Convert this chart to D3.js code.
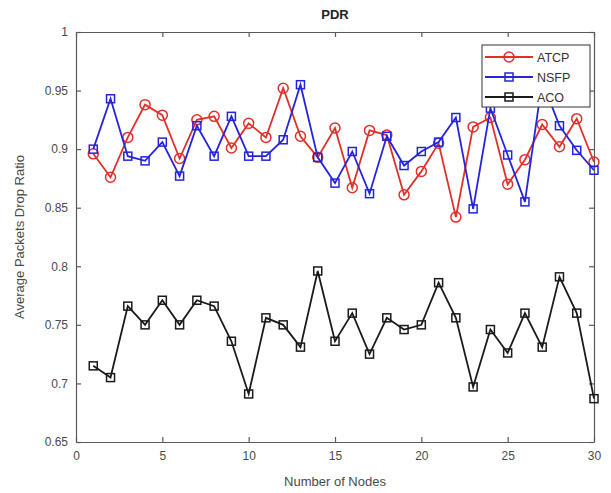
<!DOCTYPE html>
<html><head><meta charset="utf-8">
<script src="https://cdn.jsdelivr.net/npm/d3@7"></script>
<style>body{margin:0;background:#fff}svg{display:block}text{font-family:"Liberation Sans",Arial,sans-serif}</style>
</head><body>
<svg id="c" width="611" height="493"></svg>
<script>
const nodes = d3.range(1, 31);
const atcp = [0.896,0.876,0.910,0.938,0.929,0.892,0.925,0.928,0.901,0.922,0.910,0.952,0.911,0.893,0.918,
              0.867,0.916,0.912,0.861,0.881,0.905,0.842,0.919,0.927,0.870,0.891,0.921,0.902,0.926,0.889];
const nsfp = [0.900,0.943,0.894,0.890,0.906,0.877,0.920,0.894,0.928,0.894,0.894,0.908,0.955,0.893,0.871,
              0.898,0.862,0.911,0.886,0.898,0.906,0.927,0.849,0.935,0.895,0.855,0.958,0.920,0.899,0.882];
const aco  = [0.715,0.705,0.766,0.750,0.771,0.750,0.771,0.766,0.736,0.691,0.756,0.750,0.731,0.796,0.736,
              0.760,0.725,0.756,0.746,0.750,0.786,0.756,0.697,0.746,0.726,0.760,0.731,0.791,0.760,0.687];
const xTicks = [0,5,10,15,20,25,30];
const yTicks = [0.65,0.7,0.75,0.8,0.85,0.9,0.95,1];
const seriesNames = ["ATCP","NSFP","ACO"];

const svg = d3.select("#c");
const L=76, R=594, T=32, B=442;
const x = d3.scaleLinear().domain([0,30]).range([L,R]);
const y = d3.scaleLinear().domain([0.65,1]).range([B,T]);
const axisCol = "#5a5a5a", txtCol = "#4a4a4a";

// axes with inward ticks
const ax = [
  d3.axisBottom(x).tickValues(xTicks).tickSizeInner(-5).tickSizeOuter(0).tickPadding(9),
  d3.axisTop(x).tickValues(xTicks).tickSizeInner(-5).tickSizeOuter(0).tickFormat(""),
  d3.axisLeft(y).tickValues(yTicks).tickSizeInner(-5).tickSizeOuter(0).tickPadding(8).tickFormat(d=>d===1?"1":String(+d.toFixed(2))),
  d3.axisRight(y).tickValues(yTicks).tickSizeInner(-5).tickSizeOuter(0).tickFormat("")
];
const tr = [`translate(0,${B})`,`translate(0,${T})`,`translate(${L},0)`,`translate(${R},0)`];
ax.forEach((a,i)=>{
  const g = svg.append("g").attr("transform",tr[i]).call(a);
  g.selectAll("path,line").attr("stroke",axisCol).attr("stroke-width",1.2);
  g.selectAll("text").attr("fill",txtCol).style("font-size","12px");
});

svg.append("text").attr("x",(L+R)/2).attr("y",19).attr("text-anchor","middle")
  .style("font-weight","bold").style("font-size","13px").attr("fill","#222").text("PDR");
svg.append("text").attr("x",(L+R)/2).attr("y",486).attr("text-anchor","middle")
  .style("font-size","13px").attr("fill",txtCol).text("Number of Nodes");
svg.append("text").attr("transform",`translate(24,${(T+B)/2}) rotate(-90)`).attr("text-anchor","middle")
  .style("font-size","13px").attr("fill",txtCol).text("Average Packets Drop Ratio");

const cols = ["#e0302a","#2424dd","#1a1a1a"];
const data = [atcp,nsfp,aco];
const line = d3.line().x((d,i)=>x(nodes[i])).y(d=>y(d));
function marker(g,k,cx,cy){
  if(k===0) g.append("circle").attr("cx",cx).attr("cy",cy).attr("r",5).attr("fill","none").attr("stroke",cols[k]).attr("stroke-width",1.5);
  else g.append("rect").attr("x",cx-4).attr("y",cy-4).attr("width",8).attr("height",8).attr("fill","none").attr("stroke",cols[k]).attr("stroke-width",1.5);
}
data.forEach((arr,k)=>{
  const g = svg.append("g");
  g.append("path").datum(arr).attr("d",line).attr("fill","none").attr("stroke",cols[k]).attr("stroke-width",1.8);
  arr.forEach((v,i)=>marker(g,k,x(nodes[i]),y(v)));
});

// legend
const lg = svg.append("g");
lg.append("rect").attr("x",482).attr("y",45).attr("width",108).attr("height",62).attr("fill","#fff").attr("stroke","#333").attr("stroke-width",1);
seriesNames.forEach((n,k)=>{
  const yy = 57 + k*20;
  lg.append("line").attr("x1",485).attr("x2",533).attr("y1",yy).attr("y2",yy).attr("stroke",cols[k]).attr("stroke-width",1.8);
  marker(lg,k,509,yy);
  lg.append("text").attr("x",537).attr("y",yy+4.5).style("font-size","12.5px").attr("fill","#333").text(n);
});
</script>
</body></html>
